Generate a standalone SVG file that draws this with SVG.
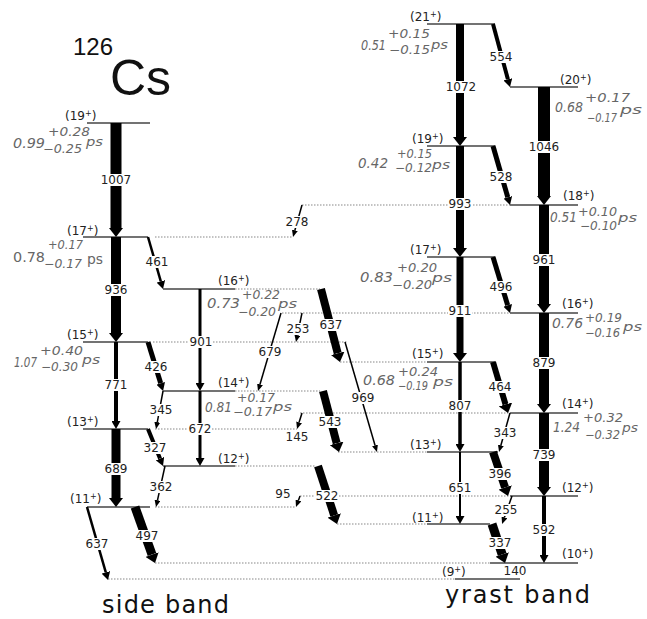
<svg xmlns="http://www.w3.org/2000/svg" width="647" height="619" viewBox="0 0 647 619">
<defs>
<style>
.lv{stroke:#444;stroke-width:1.5;fill:none}
.dt{stroke:#888;stroke-width:1.2;stroke-dasharray:1.5 1.5;fill:none}
.tr{stroke:#000;fill:none;stroke-linecap:butt}
.a{stroke-width:1.5;marker-end:url(#hA)}
.b{marker-end:url(#hB)}
.c{marker-end:url(#hC)}
.bg{fill:#fff}
.lb{font-family:"DejaVu Sans",sans-serif;font-size:12px;fill:#222;text-anchor:middle}
.sp{font-family:"DejaVu Sans",sans-serif;font-size:12px;fill:#222}
.su{font-size:8px}
.lt{font-family:"DejaVu Sans",sans-serif;font-style:italic;fill:#666;font-size:14px}
.ls{font-size:12px}
.ps{font-size:13px}
.up{font-style:normal}
.big{font-family:"DejaVu Sans",sans-serif;font-size:24px;fill:#111}
</style>
<marker id="hA" markerUnits="userSpaceOnUse" orient="auto" viewBox="0 -3 7 6" markerWidth="7" markerHeight="6" refX="0" refY="0"><path d="M0-3L7 0L0 3Z" fill="#000"/></marker>
<marker id="hB" markerUnits="userSpaceOnUse" orient="auto" viewBox="0 -4.5 8 9" markerWidth="8" markerHeight="9" refX="0" refY="0"><path d="M0-4.5L8 0L0 4.5Z" fill="#000"/></marker>
<marker id="hC" markerUnits="userSpaceOnUse" orient="auto" viewBox="0 -7 9 14" markerWidth="9" markerHeight="14" refX="0" refY="0"><path d="M0-7L9 0L0 7Z" fill="#000"/></marker>
</defs>
<rect width="647" height="619" fill="#fff"/>

<g id="title">
<text x="73" y="55" font-family="Liberation Sans,sans-serif" font-size="24" fill="#111">126</text>
<text x="110" y="95" font-family="Liberation Sans,sans-serif" font-size="50" fill="#111">Cs</text>
</g>

<!-- side band levels -->
<g id="s19">
<path class="lv" d="M87 123H150"/>
<text class="sp" x="65" y="120">(19<tspan class="su" dy="-4">+</tspan><tspan dy="4">)</tspan></text>
<text class="lt" x="13" y="148" textLength="32" lengthAdjust="spacingAndGlyphs">0.99</text>
<text class="lt ls" x="48" y="136.4" textLength="42" lengthAdjust="spacingAndGlyphs">+0.28</text>
<text class="lt ls" x="43" y="153.4" textLength="39" lengthAdjust="spacingAndGlyphs">−0.25</text>
<text class="lt ps" x="86" y="146" textLength="17" lengthAdjust="spacingAndGlyphs">ps</text>
</g>
<g id="s17">
<path class="lv" d="M83 237H148"/><path class="dt" d="M155 237H293"/>
<text class="sp" x="67" y="235">(17<tspan class="su" dy="-4">+</tspan><tspan dy="4">)</tspan></text>
<text class="lt up" x="13" y="262" font-size="15" textLength="32" lengthAdjust="spacingAndGlyphs">0.78</text>
<text class="lt ls" x="48" y="249" textLength="35" lengthAdjust="spacingAndGlyphs">+0.17</text>
<text class="lt ls" x="44" y="268" textLength="38" lengthAdjust="spacingAndGlyphs">−0.17</text>
<text class="lt up" x="87" y="264" font-size="14" textLength="16" lengthAdjust="spacingAndGlyphs">ps</text>
</g>
<g id="s15">
<path class="lv" d="M83 342H148"/><path class="dt" d="M153 342H348"/>
<text class="sp" x="67" y="339">(15<tspan class="su" dy="-4">+</tspan><tspan dy="4">)</tspan></text>
<text class="lt" x="14" y="367" textLength="23" lengthAdjust="spacingAndGlyphs">1.07</text>
<text class="lt ls" x="40" y="355.4" textLength="43" lengthAdjust="spacingAndGlyphs">+0.40</text>
<text class="lt ls" x="41" y="371" textLength="37" lengthAdjust="spacingAndGlyphs">−0.30</text>
<text class="lt ps" x="82" y="364" textLength="18" lengthAdjust="spacingAndGlyphs">ps</text>
</g>
<g id="s13">
<path class="lv" d="M83 429H148"/><path class="dt" d="M155 429H297"/>
<text class="sp" x="67" y="426">(13<tspan class="su" dy="-4">+</tspan><tspan dy="4">)</tspan></text>
</g>
<g id="s11">
<path class="lv" d="M87 507H150"/><path class="dt" d="M155 507H296"/>
<text class="sp" x="70" y="503">(11<tspan class="su" dy="-4">+</tspan><tspan dy="4">)</tspan></text>
</g>
<g id="s16">
<path class="lv" d="M163 289H235"/><path class="dt" d="M235 289H320"/>
<text class="sp" x="218" y="285">(16<tspan class="su" dy="-4">+</tspan><tspan dy="4">)</tspan></text>
<text class="lt" x="207" y="308" textLength="33" lengthAdjust="spacingAndGlyphs">0.73</text>
<text class="lt ls" x="242" y="298.5" textLength="38" lengthAdjust="spacingAndGlyphs">+0.22</text>
<text class="lt ls" x="238" y="316" textLength="38" lengthAdjust="spacingAndGlyphs">−0.20</text>
<text class="lt ps" x="278" y="308" textLength="19" lengthAdjust="spacingAndGlyphs">ps</text>
</g>
<g id="s14">
<path class="lv" d="M163 391H235"/><path class="dt" d="M235 391H320"/>
<text class="sp" x="218" y="387">(14<tspan class="su" dy="-4">+</tspan><tspan dy="4">)</tspan></text>
<text class="lt" x="205" y="412" textLength="27" lengthAdjust="spacingAndGlyphs">0.81</text>
<text class="lt ls" x="237" y="402.4" textLength="38" lengthAdjust="spacingAndGlyphs">+0.17</text>
<text class="lt ls" x="233" y="416.4" textLength="39" lengthAdjust="spacingAndGlyphs">−0.17</text>
<text class="lt ps" x="273" y="411" textLength="19" lengthAdjust="spacingAndGlyphs">ps</text>
</g>
<g id="s12">
<path class="lv" d="M163 466H235"/><path class="dt" d="M235 466H315"/>
<text class="sp" x="218" y="463">(12<tspan class="su" dy="-4">+</tspan><tspan dy="4">)</tspan></text>
</g>

<!-- yrast band levels -->
<g id="y21">
<path class="lv" d="M427 24H495"/>
<text class="sp" x="410" y="21">(21<tspan class="su" dy="-4">+</tspan><tspan dy="4">)</tspan></text>
<text class="lt" x="361" y="50" textLength="25" lengthAdjust="spacingAndGlyphs">0.51</text>
<text class="lt ls" x="388" y="38" textLength="42" lengthAdjust="spacingAndGlyphs">+0.15</text>
<text class="lt ls" x="389" y="54.4" textLength="41" lengthAdjust="spacingAndGlyphs">−0.15</text>
<text class="lt ps" x="431" y="49" textLength="17" lengthAdjust="spacingAndGlyphs">ps</text>
</g>
<g id="y20">
<path class="lv" d="M510 87H578"/>
<text class="sp" x="560" y="84">(20<tspan class="su" dy="-4">+</tspan><tspan dy="4">)</tspan></text>
<text class="lt" x="555" y="112" textLength="28" lengthAdjust="spacingAndGlyphs">0.68</text>
<text class="lt ls" x="585" y="102.4" textLength="45" lengthAdjust="spacingAndGlyphs">+0.17</text>
<text class="lt ls" x="587" y="122.4" textLength="30" lengthAdjust="spacingAndGlyphs">−0.17</text>
<text class="lt ps" x="620" y="114" textLength="22" lengthAdjust="spacingAndGlyphs">ps</text>
</g>
<g id="y19">
<path class="lv" d="M427 146H495"/>
<text class="sp" x="412" y="143">(19<tspan class="su" dy="-4">+</tspan><tspan dy="4">)</tspan></text>
<text class="lt" x="358" y="168" textLength="30" lengthAdjust="spacingAndGlyphs">0.42</text>
<text class="lt ls" x="397" y="158" textLength="35" lengthAdjust="spacingAndGlyphs">+0.15</text>
<text class="lt ls" x="395" y="172.4" textLength="37" lengthAdjust="spacingAndGlyphs">−0.12</text>
<text class="lt ps" x="432" y="169" textLength="18" lengthAdjust="spacingAndGlyphs">ps</text>
</g>
<g id="y18">
<path class="lv" d="M510 205H578"/><path class="dt" d="M302 205H510"/>
<text class="sp" x="563" y="200">(18<tspan class="su" dy="-4">+</tspan><tspan dy="4">)</tspan></text>
<text class="lt" x="550" y="222" textLength="27" lengthAdjust="spacingAndGlyphs">0.51</text>
<text class="lt ls" x="578" y="216" textLength="39" lengthAdjust="spacingAndGlyphs">+0.10</text>
<text class="lt ls" x="580" y="229.5" textLength="37" lengthAdjust="spacingAndGlyphs">−0.10</text>
<text class="lt ps" x="618" y="222" textLength="19" lengthAdjust="spacingAndGlyphs">ps</text>
</g>
<g id="y17">
<path class="lv" d="M427 257H495"/>
<text class="sp" x="410" y="254">(17<tspan class="su" dy="-4">+</tspan><tspan dy="4">)</tspan></text>
<text class="lt" x="360" y="282" textLength="33" lengthAdjust="spacingAndGlyphs">0.83</text>
<text class="lt ls" x="397" y="272.4" textLength="40" lengthAdjust="spacingAndGlyphs">+0.20</text>
<text class="lt ls" x="392" y="289.4" textLength="40" lengthAdjust="spacingAndGlyphs">−0.20</text>
<text class="lt ps" x="432" y="282" textLength="20" lengthAdjust="spacingAndGlyphs">ps</text>
</g>
<g id="y16">
<path class="lv" d="M510 313H578"/><path class="dt" d="M282 313H510"/>
<text class="sp" x="562" y="308">(16<tspan class="su" dy="-4">+</tspan><tspan dy="4">)</tspan></text>
<text class="lt" x="552" y="328" textLength="31" lengthAdjust="spacingAndGlyphs">0.76</text>
<text class="lt ls" x="585" y="322" textLength="37" lengthAdjust="spacingAndGlyphs">+0.19</text>
<text class="lt ls" x="585" y="337.4" textLength="35" lengthAdjust="spacingAndGlyphs">−0.16</text>
<text class="lt ps" x="623" y="331" textLength="19" lengthAdjust="spacingAndGlyphs">ps</text>
</g>
<g id="y15">
<path class="lv" d="M427 362H495"/><path class="dt" d="M340 362H427"/>
<text class="sp" x="412" y="358">(15<tspan class="su" dy="-4">+</tspan><tspan dy="4">)</tspan></text>
<text class="lt" x="363" y="385" textLength="32" lengthAdjust="spacingAndGlyphs">0.68</text>
<text class="lt ls" x="398" y="376.4" textLength="40" lengthAdjust="spacingAndGlyphs">+0.24</text>
<text class="lt ls" x="398" y="390.4" textLength="30" lengthAdjust="spacingAndGlyphs">−0.19</text>
<text class="lt ps" x="433" y="386" textLength="20" lengthAdjust="spacingAndGlyphs">ps</text>
</g>
<g id="y14">
<path class="lv" d="M510 413H578"/><path class="dt" d="M300 413H510"/>
<text class="sp" x="562" y="408">(14<tspan class="su" dy="-4">+</tspan><tspan dy="4">)</tspan></text>
<text class="lt" x="553" y="432" textLength="27" lengthAdjust="spacingAndGlyphs">1.24</text>
<text class="lt ls" x="583" y="422" textLength="40" lengthAdjust="spacingAndGlyphs">+0.32</text>
<text class="lt ls" x="585" y="439.4" textLength="35" lengthAdjust="spacingAndGlyphs">−0.32</text>
<text class="lt ps" x="622" y="432" textLength="16" lengthAdjust="spacingAndGlyphs">ps</text>
</g>
<g id="y13">
<path class="lv" d="M427 452H498"/><path class="dt" d="M338 452H427"/>
<text class="sp" x="410" y="449">(13<tspan class="su" dy="-4">+</tspan><tspan dy="4">)</tspan></text>
</g>
<g id="y12">
<path class="lv" d="M510 496H578"/><path class="dt" d="M300 496H510"/>
<text class="sp" x="562" y="492">(12<tspan class="su" dy="-4">+</tspan><tspan dy="4">)</tspan></text>
</g>
<g id="y11">
<path class="lv" d="M427 524H490"/><path class="dt" d="M337 524H427"/>
<text class="sp" x="412" y="522">(11<tspan class="su" dy="-4">+</tspan><tspan dy="4">)</tspan></text>
</g>
<g id="y10">
<path class="lv" d="M490 563H578"/><path class="dt" d="M155 563H490"/>
<text class="sp" x="562" y="558">(10<tspan class="su" dy="-4">+</tspan><tspan dy="4">)</tspan></text>
</g>
<g id="y9">
<path class="lv" d="M455 579H520"/><path class="dt" d="M108 579H455"/>
<text class="sp" x="442" y="576">(9<tspan class="su" dy="-4">+</tspan><tspan dy="4">)</tspan></text>
</g>

<g id="connectors">
<!-- side band -->
<path class="tr c" stroke-width="11" d="M116 123V228"/>
<path class="tr c" stroke-width="10" d="M116 237V333"/>
<path class="tr b" stroke-width="4" d="M116 342V421"/>
<path class="tr c" stroke-width="9" d="M116 429V498"/>
<path class="tr b" stroke-width="2.5" d="M148 237L160.8 281.3"/>
<path class="tr b" stroke-width="5" d="M148 342L160.7 383.3"/>
<path class="tr a" d="M163 391L157.3 422.1"/>
<path class="tr b" stroke-width="4" d="M148 429L160 458.6"/>
<path class="tr a" d="M165 466L157.5 500.2"/>
<path class="tr b" stroke-width="2.5" d="M87 507L105.8 572.3"/>
<path class="tr c" stroke-width="9" d="M135 507L152 554.5"/>
<path class="tr b" stroke-width="3" d="M200 289V383"/>
<path class="tr b" stroke-width="3" d="M200 391V458"/>
<path class="tr c" stroke-width="8" d="M321 289L337.7 353.3"/>
<path class="tr c" stroke-width="8" d="M323 391L336.7 443.3"/>
<path class="tr c" stroke-width="8" d="M318 466L334.2 515.4"/>
<path class="tr a" stroke-width="1" d="M281 313L260 384.3"/>
<path class="tr a" d="M302 313L297.4 335.1"/>
<path class="tr a" d="M302 205L294.9 230.3"/>
<path class="tr a" d="M302 413L299.1 422.3"/>
<path class="tr a" d="M300 496L298.4 500.4"/>
<path class="tr a" d="M345 342L375 445.3"/>
<!-- yrast band -->
<path class="tr c" stroke-width="8" d="M460 24V137"/>
<path class="tr b" stroke-width="4" d="M493 24L507.9 79.3"/>
<path class="tr c" stroke-width="12" d="M544 87V196"/>
<path class="tr b" stroke-width="5" d="M493 146L507.8 197.3"/>
<path class="tr c" stroke-width="8" d="M460 146V248"/>
<path class="tr c" stroke-width="10" d="M544 205V304"/>
<path class="tr b" stroke-width="5" d="M493 257L507.7 305.3"/>
<path class="tr c" stroke-width="7" d="M460 257V353"/>
<path class="tr c" stroke-width="10" d="M544 313V404"/>
<path class="tr c" stroke-width="6" d="M493 362L505.5 404.4"/>
<path class="tr b" stroke-width="3.5" d="M460 362V444"/>
<path class="tr c" stroke-width="10" d="M544 413V487"/>
<path class="tr a" d="M510 413L500.9 445.3"/>
<path class="tr c" stroke-width="8" d="M493 452L505.1 487.5"/>
<path class="tr b" stroke-width="2" d="M460 452V516"/>
<path class="tr b" stroke-width="4" d="M544 496V555"/>
<path class="tr a" stroke-width="2" d="M512 496L504.4 517.4"/>
<path class="tr c" stroke-width="9" d="M492 524L502.2 554.5"/>

<!-- label backgrounds -->
<rect class="bg" x="100" y="174" width="32" height="12"/>
<rect class="bg" x="104" y="284" width="24" height="12"/>
<rect class="bg" x="104" y="379" width="24" height="12"/>
<rect class="bg" x="104" y="463" width="24" height="12"/>
<rect class="bg" x="145" y="256" width="24" height="12"/>
<rect class="bg" x="144" y="361" width="24" height="12"/>
<rect class="bg" x="149" y="404" width="24" height="12"/>
<rect class="bg" x="143" y="442" width="24" height="12"/>
<rect class="bg" x="149" y="481" width="24" height="12"/>
<rect class="bg" x="85" y="538" width="24" height="12"/>
<rect class="bg" x="135" y="530" width="24" height="12"/>
<rect class="bg" x="189" y="336" width="24" height="12"/>
<rect class="bg" x="188" y="423" width="24" height="12"/>
<rect class="bg" x="319" y="319" width="24" height="12"/>
<rect class="bg" x="318" y="416" width="24" height="12"/>
<rect class="bg" x="315" y="490" width="24" height="12"/>
<rect class="bg" x="258" y="346" width="24" height="12"/>
<rect class="bg" x="286" y="323" width="24" height="12"/>
<rect class="bg" x="285" y="216" width="24" height="12"/>
<rect class="bg" x="285" y="431" width="24" height="12"/>
<rect class="bg" x="275" y="488" width="16" height="12"/>
<rect class="bg" x="351" y="392" width="24" height="12"/>
<rect class="bg" x="445" y="81" width="32" height="12"/>
<rect class="bg" x="489" y="51" width="24" height="12"/>
<rect class="bg" x="528" y="141" width="32" height="12"/>
<rect class="bg" x="489" y="171" width="24" height="12"/>
<rect class="bg" x="448" y="198" width="24" height="12"/>
<rect class="bg" x="532" y="254" width="24" height="12"/>
<rect class="bg" x="489" y="281" width="24" height="12"/>
<rect class="bg" x="448" y="305" width="24" height="12"/>
<rect class="bg" x="532" y="357" width="24" height="12"/>
<rect class="bg" x="488" y="381" width="24" height="12"/>
<rect class="bg" x="448" y="400" width="24" height="12"/>
<rect class="bg" x="532" y="449" width="24" height="12"/>
<rect class="bg" x="493" y="427" width="24" height="12"/>
<rect class="bg" x="488" y="468" width="24" height="12"/>
<rect class="bg" x="448" y="482" width="24" height="12"/>
<rect class="bg" x="532" y="524" width="24" height="12"/>
<rect class="bg" x="494" y="504" width="24" height="12"/>
<rect class="bg" x="488" y="537" width="24" height="12"/>

<!-- transition labels -->
<text class="lb" x="116" y="184.4">1007</text>
<text class="lb" x="116" y="294.4">936</text>
<text class="lb" x="116" y="389.4">771</text>
<text class="lb" x="116" y="473.4">689</text>
<text class="lb" x="157" y="266.4">461</text>
<text class="lb" x="156" y="371.4">426</text>
<text class="lb" x="161" y="414.4">345</text>
<text class="lb" x="155" y="452.4">327</text>
<text class="lb" x="161" y="491.4">362</text>
<text class="lb" x="97" y="548.4">637</text>
<text class="lb" x="147" y="540.4">497</text>
<text class="lb" x="201" y="346.4">901</text>
<text class="lb" x="200" y="433.4">672</text>
<text class="lb" x="331" y="329.4">637</text>
<text class="lb" x="330" y="426.4">543</text>
<text class="lb" x="327" y="500.4">522</text>
<text class="lb" x="270" y="356.4">679</text>
<text class="lb" x="298" y="333.4">253</text>
<text class="lb" x="297" y="226.4">278</text>
<text class="lb" x="297" y="441.4">145</text>
<text class="lb" x="283" y="498.4">95</text>
<text class="lb" x="363" y="402.4">969</text>
<text class="lb" x="461" y="91.4">1072</text>
<text class="lb" x="501" y="61.4">554</text>
<text class="lb" x="544" y="151.4">1046</text>
<text class="lb" x="501" y="181.4">528</text>
<text class="lb" x="460" y="208.4">993</text>
<text class="lb" x="544" y="264.4">961</text>
<text class="lb" x="501" y="291.4">496</text>
<text class="lb" x="460" y="315.4">911</text>
<text class="lb" x="544" y="367.4">879</text>
<text class="lb" x="500" y="391.4">464</text>
<text class="lb" x="460" y="410.4">807</text>
<text class="lb" x="544" y="459.4">739</text>
<text class="lb" x="505" y="437.4">343</text>
<text class="lb" x="500" y="478.4">396</text>
<text class="lb" x="460" y="492.4">651</text>
<text class="lb" x="544" y="534.4">592</text>
<text class="lb" x="506" y="514.4">255</text>
<text class="lb" x="500" y="547.4">337</text>
<text class="lb" x="515" y="575.4">140</text>
</g>

<g id="bands">
<text class="big" x="102" y="613" textLength="127" lengthAdjust="spacing">side band</text>
<text class="big" x="445" y="603" textLength="145" lengthAdjust="spacing">yrast band</text>
</g>
</svg>
